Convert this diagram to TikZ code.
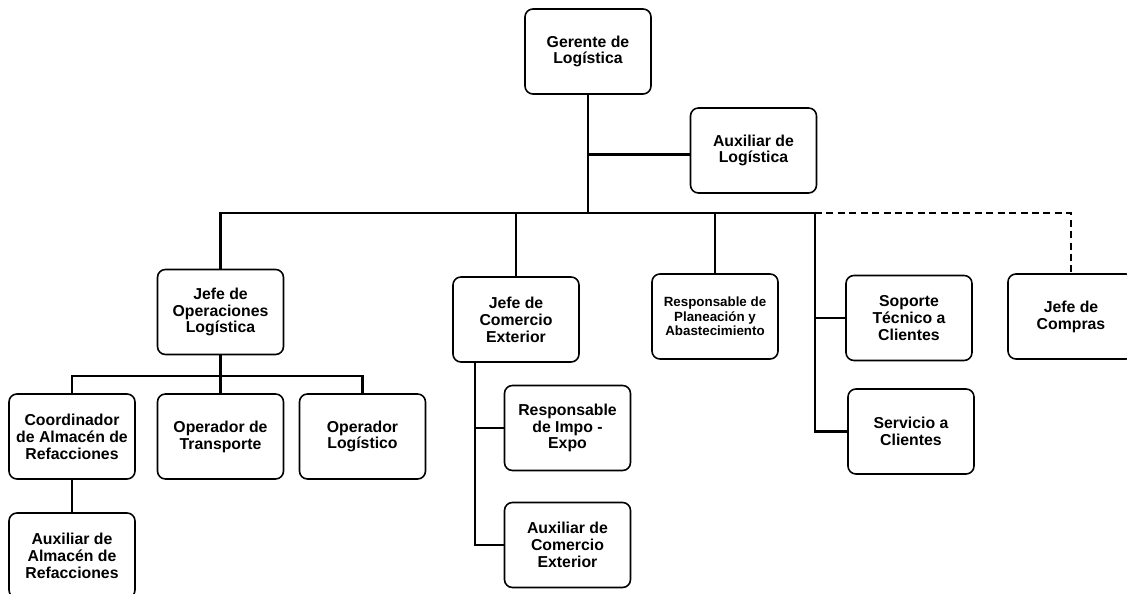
\documentclass[tikz,border=0pt]{standalone}
\usepackage{fontspec}
\setmainfont{Liberation Sans}
\usetikzlibrary{calc}

\begin{document}
\begin{tikzpicture}[x=0.02cm, y=-0.02cm]
\tikzset{puesto/.style = {shape=rectangle, draw, rounded corners=4.5pt, line width=0.9pt,
  minimum width=2.52cm, minimum height=1.7cm, align=center, inner sep=1pt,
  font=\fontsize{9}{9.6}\selectfont\bfseries}}
\tikzset{puestochico/.style = {puesto, font=\fontsize{7.6}{8.3}\selectfont\bfseries}}
\tikzset{linea/.style = {line width=1.4pt}}
\useasboundingbox (0,0) rectangle (1127,594);
\node[puesto](ger) at (588, 51.5) {Gerente de\\Log\'istica};
\node[puesto](auxlog) at (753.5, 150.5) {Auxiliar de\\Log\'istica};
\node[puesto](jop) at (220.5, 312) {Jefe de\\Operaciones\\Log\'istica};
\node[puesto](jce) at (516, 319.5) {Jefe de\\Comercio\\Exterior};
\node[puestochico](rpa) at (715, 316.5) {Responsable de\\Planeaci\'on y\\Abastecimiento};
\node[puesto](stc) at (909, 318) {Soporte\\T\'ecnico a\\Clientes};
\node[puesto](sac) at (911, 431.5) {Servicio a\\Clientes};
\node[puesto](jco) at (1071, 316.5) {Jefe de\\Compras};
\node[puesto](coo) at (72, 436.5) {Coordinador\\de Almac\'en de\\Refacciones};
\node[puesto](otr) at (220.5, 436.5) {Operador de\\Transporte};
\node[puesto](olo) at (362.5, 436.5) {Operador\\Log\'istico};
\node[puesto](ala) at (72, 555.5) {Auxiliar de\\Almac\'en de\\Refacciones};
\node[puesto](rie) at (567.5, 428) {Responsable\\de Impo -\\Expo};
\node[puesto](ace) at (567.5, 545) {Auxiliar de\\Comercio\\Exterior};
\coordinate (bus) at (588, 213);
\coordinate (busder) at (815, 213);
\coordinate (subbus) at (220.5, 376);
\coordinate (ceb) at (475, 362);
\draw[linea] (ger) -- (bus);
\draw[linea] (ger.south |- auxlog.west) ++(0,4) -- ([yshift=-4*0.02cm]auxlog.west);
\draw[linea] (jop.north) |- (busder);
\draw[linea] (jce.north |- bus) -- (jce.north);
\draw[linea] (rpa.north |- bus) -- (rpa.north);
\draw[linea] (busder) |- (sac.west);
\draw[linea] (busder |- stc.west) -- (stc.west);
\draw[linea, dashed, dash pattern=on 4pt off 2.5pt] (busder) -| (jco.north);
\draw[linea] (jop) -- (otr);
\draw[linea] (coo.north) |- (subbus -| olo.north) -- (olo.north);
\draw[linea] (coo) -- (ala);
\draw[linea] (ceb) |- (ace.west);
\draw[linea] (ceb |- rie.west) -- (rie.west);
\end{tikzpicture}
\end{document}
